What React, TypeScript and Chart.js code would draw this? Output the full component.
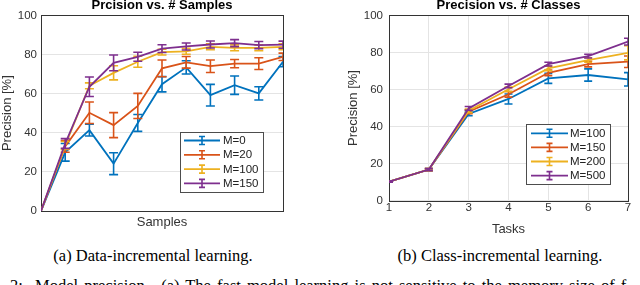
import React, { useEffect, useRef } from "react";
import { Chart, registerables } from "chart.js";

Chart.register(...registerables);

// ---------- Data: (a) Data-incremental learning ----------
const sampleSteps = [0, 1, 2, 3, 4, 5, 6, 7, 8, 9, 10];
const samplesSeriesLabels = ["M=0", "M=20", "M=100", "M=150"];
const samplesM0 = [0, 30, 41.3, 24.2, 45, 64.8, 73.4, 59.2, 64.3, 60.1, 76.3];
const samplesM0Err = [0, 4.5, 3, 5.6, 4.3, 3.9, 3.4, 5.5, 4.7, 3.4, 2.6];
const samplesM20 = [0, 33, 50.2, 43.9, 53.7, 72.9, 76.0, 74, 75.3, 75.3, 78.8];
const samplesM20Err = [0, 3, 5.5, 6.4, 6.4, 4.3, 3, 3.2, 2.1, 3, 1.9];
const samplesM100 = [0, 33.5, 64, 70.6, 76.3, 81.2, 81.6, 83.9, 83.4, 83.4, 83.9];
const samplesM100Err = [0, 2, 1.5, 3.6, 2.8, 1.5, 1.5, 1.5, 1.5, 1.5, 1.5];
const samplesM150 = [0, 34.5, 63.5, 75.7, 78.8, 83, 84.1, 85.1, 85.8, 84.8, 85];
const samplesM150Err = [0, 2.5, 5, 4, 2.3, 2, 1.8, 1.8, 1.8, 1.8, 1.8];
const yTicksPct = [0, 20, 40, 60, 80, 100];

// ---------- Data: (b) Class-incremental learning ----------
const tasks = [1, 2, 3, 4, 5, 6, 7];
const tasksSeriesLabels = ["M=100", "M=150", "M=200", "M=500"];
const tasksM100 = [10.3, 16.8, 46.8, 54.9, 66, 67.8, 65.5];
const tasksM100Err = [0.3, 0.6, 1, 2.7, 2.7, 3.3, 3.6];
const tasksM150 = [10.3, 16.8, 48, 57.4, 69, 73.7, 75];
const tasksM150Err = [0.3, 0.6, 1, 1.5, 1.5, 1.5, 3.1];
const tasksM200 = [10.3, 16.8, 48.5, 60.1, 71.4, 75.9, 79.8];
const tasksM200Err = [0.3, 0.6, 1, 1.2, 1.2, 1.2, 3.8];
const tasksM500 = [10.3, 16.8, 49.8, 61.9, 73.7, 78, 85.8];
const tasksM500Err = [0.3, 0.6, 1, 1, 1, 1, 1.8];

const seriesColors = ["#0072BD", "#D95319", "#EDB120", "#7E2F8E"];

const FONT = "'Liberation Sans', Arial, Helvetica, sans-serif";
const AXIS_COLOR = "#333333";

const errorBarPlugin = {
  id: "errorBars",
  afterDatasetDraw(chart: any, args: any, opts: any) {
    const ds = chart.data.datasets[args.index];
    const errs = ds.errors as number[] | undefined;
    if (!errs) return;
    const yScale = chart.scales.y;
    const { ctx, chartArea } = chart;
    ctx.save();
    ctx.beginPath();
    ctx.rect(chartArea.left, chartArea.top, chartArea.right - chartArea.left, chartArea.bottom - chartArea.top);
    ctx.clip();
    ctx.strokeStyle = ds.borderColor;
    ctx.lineWidth = opts.lineWidth || 1.6;
    const cap = opts.capHalf || 4;
    args.meta.data.forEach((pt: any, i: number) => {
      const e = errs[i];
      if (!e) return;
      const v = ds.data[i].y;
      const yt = yScale.getPixelForValue(v + e);
      const yb = yScale.getPixelForValue(v - e);
      const x = pt.x;
      ctx.beginPath();
      ctx.moveTo(x, yt);
      ctx.lineTo(x, yb);
      ctx.moveTo(x - cap, yt);
      ctx.lineTo(x + cap, yt);
      ctx.moveTo(x - cap, yb);
      ctx.lineTo(x + cap, yb);
      ctx.stroke();
    });
    ctx.restore();
  },
};

const boxPlugin = {
  id: "axesBox",
  beforeDatasetsDraw(chart: any) {
    const { ctx, chartArea } = chart;
    ctx.save();
    ctx.strokeStyle = AXIS_COLOR;
    ctx.lineWidth = 1;
    ctx.strokeRect(
      Math.round(chartArea.left) + 0.5,
      Math.round(chartArea.top) + 0.5,
      Math.round(chartArea.right) - Math.round(chartArea.left),
      Math.round(chartArea.bottom) - Math.round(chartArea.top)
    );
    ctx.restore();
  },
};

const insideLegendPlugin = {
  id: "insideLegend",
  afterDraw(chart: any, _args: any, opts: any) {
    const { ctx, chartArea } = chart;
    const w = opts.width;
    const h = opts.height;
    const left = Math.round(chartArea.right - opts.right - w);
    const top = Math.round(chartArea.bottom - opts.bottom - h);
    ctx.save();
    ctx.fillStyle = "#ffffff";
    ctx.fillRect(left, top, w, h);
    ctx.strokeStyle = "#4d4d4d";
    ctx.lineWidth = 1;
    ctx.strokeRect(left + 0.5, top + 0.5, w, h);
    ctx.font = `11.5px ${FONT}`;
    ctx.textBaseline = "middle";
    ctx.textAlign = "left";
    chart.data.datasets.forEach((ds: any, i: number) => {
      const y = top + opts.firstRow + i * opts.rowGap;
      const x1 = left + opts.lineStart;
      const x2 = left + opts.lineEnd;
      const xm = (x1 + x2) / 2;
      ctx.strokeStyle = ds.borderColor;
      ctx.lineWidth = 1.8;
      ctx.beginPath();
      ctx.moveTo(x1, y);
      ctx.lineTo(x2, y);
      ctx.stroke();
      ctx.lineWidth = 1.6;
      ctx.beginPath();
      ctx.moveTo(xm, y - 4);
      ctx.lineTo(xm, y + 4);
      ctx.moveTo(xm - 3, y - 4);
      ctx.lineTo(xm + 3, y - 4);
      ctx.moveTo(xm - 3, y + 4);
      ctx.lineTo(xm + 3, y + 4);
      ctx.stroke();
      ctx.fillStyle = "#222222";
      ctx.fillText(ds.label, left + opts.textX, y + 0.5);
    });
    ctx.restore();
  },
};

function makeDatasets(xs: number[], labels: string[], values: number[][], errs: number[][]) {
  return values.map((vals, i) => ({
    label: labels[i],
    data: xs.map((x, j) => ({ x, y: vals[j] })),
    errors: errs[i],
    borderColor: seriesColors[i],
    backgroundColor: seriesColors[i],
    borderWidth: 1.8,
    pointRadius: 0,
    pointHoverRadius: 0,
    tension: 0,
    order: values.length - 1 - i,
    clip: 0,
  }));
}

function LineChart(props: {
  width: number;
  height: number;
  config: any;
  style: React.CSSProperties;
}) {
  const ref = useRef<HTMLCanvasElement | null>(null);
  useEffect(() => {
    if (!ref.current) return;
    const chart = new Chart(ref.current, props.config);
    return () => chart.destroy();
  }, []);
  return <canvas ref={ref} width={props.width} height={props.height} style={{ ...props.style, display: "block", width: props.width, height: props.height }} />;
}

function yAxis(width: number, tickPad: number) {
  return {
    type: "linear",
    min: 0,
    max: 100,
    afterBuildTicks: (scale: any) => {
      scale.ticks = yTicksPct.map((v) => ({ value: v }));
    },
    afterFit: (scale: any) => {
      scale.width = width;
    },
    ticks: { color: AXIS_COLOR, font: { family: FONT, size: 11.5 }, padding: tickPad },
    grid: { color: "#e4e4e4", lineWidth: 1, drawTicks: false },
    border: { display: false },
    title: { display: true, text: "Precision [%]", color: AXIS_COLOR, font: { family: FONT, size: 13, lineHeight: 1.1 }, padding: 0 },
  };
}

const titleFont = { family: FONT, size: 13, weight: "bold", lineHeight: 1.18 };

const samplesConfig = {
  type: "line",
  data: {
    datasets: makeDatasets(
      sampleSteps,
      samplesSeriesLabels,
      [samplesM0, samplesM20, samplesM100, samplesM150],
      [samplesM0Err, samplesM20Err, samplesM100Err, samplesM150Err]
    ),
  },
  options: {
    responsive: false,
    animation: false,
    events: [],
    layout: { padding: { left: 0, right: 37, top: 0, bottom: 0 } },
    scales: {
      x: {
        type: "linear",
        min: sampleSteps[0],
        max: sampleSteps[sampleSteps.length - 1],
        afterFit: (scale: any) => {
          scale.height = 19;
        },
        ticks: { display: false },
        grid: { display: false },
        border: { display: false },
        title: { display: true, text: "Samples", color: AXIS_COLOR, font: { family: FONT, size: 13, lineHeight: 1.1 }, padding: 0 },
      },
      y: yAxis(41, 4),
    },
    plugins: {
      legend: { display: false },
      tooltip: { enabled: false },
      title: {
        display: true,
        text: "Prcision vs. # Samples",
        fullSize: false,
        color: "#000000",
        font: titleFont,
        padding: { top: 0, bottom: 2 },
      },
      errorBars: { lineWidth: 1.6, capHalf: 4.5 },
      insideLegend: { width: 83, height: 60, right: 20, bottom: 19, firstRow: 8.5, rowGap: 14.3, lineStart: 4, lineEnd: 40, textX: 43 },
    },
  },
  plugins: [boxPlugin, errorBarPlugin, insideLegendPlugin],
};

const tasksConfig = {
  type: "line",
  data: {
    datasets: makeDatasets(
      tasks,
      tasksSeriesLabels,
      [tasksM100, tasksM150, tasksM200, tasksM500],
      [tasksM100Err, tasksM150Err, tasksM200Err, tasksM500Err]
    ),
  },
  options: {
    responsive: false,
    animation: false,
    events: [],
    layout: { padding: { left: 26, right: 12, top: 0, bottom: 0 } },
    scales: {
      x: {
        type: "linear",
        min: tasks[0],
        max: tasks[tasks.length - 1],
        afterBuildTicks: (scale: any) => {
          scale.ticks = tasks.map((v) => ({ value: v }));
        },
        afterFit: (scale: any) => {
          scale.height = 36.3;
        },
        ticks: { color: AXIS_COLOR, font: { family: FONT, size: 11.5 }, padding: 0 },
        grid: { color: "#e4e4e4", lineWidth: 1, drawTicks: false },
        border: { display: false },
        title: { display: true, text: "Tasks", color: AXIS_COLOR, font: { family: FONT, size: 13, lineHeight: 1.1 }, padding: 0 },
      },
      y: yAxis(43, 6),
    },
    plugins: {
      legend: { display: false },
      tooltip: { enabled: false },
      title: {
        display: true,
        text: "Precision vs. # Classes",
        fullSize: false,
        color: "#000000",
        font: titleFont,
        padding: { top: 0, bottom: 2 },
      },
      errorBars: { lineWidth: 1.6, capHalf: 4 },
      insideLegend: { width: 84, height: 60, right: 18, bottom: 16.7, firstRow: 9.3, rowGap: 14.1, lineStart: 5, lineEnd: 42, textX: 44 },
    },
  },
  plugins: [boxPlugin, errorBarPlugin, insideLegendPlugin],
};

const serif = "'Liberation Serif', 'Times New Roman', Times, serif";
const captionFont = `16.5px/16.5px ${serif}`;

export default function App() {
  return (
    <div style={{ position: "absolute", left: 0, top: 0, width: 640, height: 285, overflow: "hidden", background: "#ffffff" }}>
      <LineChart width={320} height={232} config={samplesConfig} style={{ position: "absolute", left: 0, top: -2 }} />
      <LineChart width={320} height={239} config={tasksConfig} style={{ position: "absolute", left: 320, top: -2 }} />
      <div style={{ position: "absolute", left: 3, top: 248, width: 300, textAlign: "center", font: captionFont, color: "#000", whiteSpace: "nowrap" }}>
        (a) Data-incremental learning.
      </div>
      <div style={{ position: "absolute", left: 350, top: 248, width: 300, textAlign: "center", font: captionFont, color: "#000", whiteSpace: "nowrap" }}>
        (b) Class-incremental learning.
      </div>
      <div style={{ position: "absolute", left: 10, top: 277.5, whiteSpace: "pre", font: captionFont, color: "#000", wordSpacing: 2 }}>
        2:  Model precision.  (a) The fast model learning is not sensitive to the memory size of f
      </div>
    </div>
  );
}
